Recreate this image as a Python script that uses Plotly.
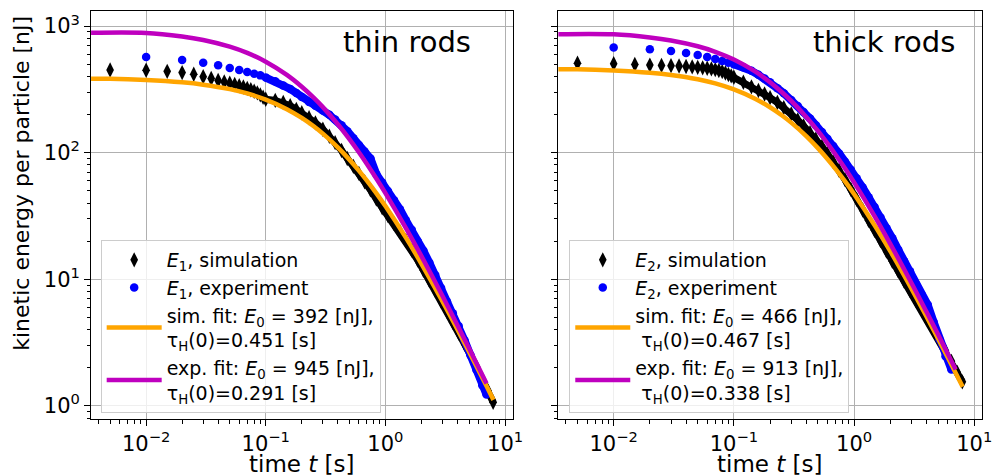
import plotly.graph_objects as go

# ---------------- data ----------------
# time grids [s]
T_SIM_EARLY = [0.005, 0.01, 0.015, 0.02, 0.025, 0.03, 0.035, 0.04, 0.045, 0.05,
               0.055, 0.06, 0.065, 0.07, 0.075, 0.08, 0.085, 0.09, 0.095, 0.10]
T_EXP_EARLY = [0.01, 0.02, 0.03, 0.04, 0.05, 0.06, 0.07, 0.08, 0.09, 0.10]
T_DENSE = [0.12, 0.14, 0.16, 0.18, 0.20, 0.23, 0.26, 0.30, 0.34, 0.38, 0.43, 0.48,
           0.54, 0.60, 0.67, 0.75, 0.84, 0.94, 1.05, 1.18, 1.32, 1.48, 1.66, 1.86,
           2.08, 2.33, 2.61, 2.92, 3.27, 3.66, 4.10, 4.59, 5.14, 5.76, 6.45]
T_SIM_TAIL = [7.22, 7.95]
T_EXP_TAIL_L = [7.0]

# thin rods (left panel), kinetic energy [nJ]
E1_SIM = [450, 448, 439, 429, 416, 398, 385, 372, 362, 354,
          346, 338, 330, 322, 314, 306, 297, 286, 274, 264,
          259, 249, 235, 220, 207, 189, 172, 153, 135, 120, 104, 90,
          78, 68.6, 59, 50.9, 43, 36.7, 31.9, 27.6, 23.9, 20.3, 17.0, 14.2,
          11.8, 9.8, 8.17, 6.74, 5.59, 4.58, 3.77, 3.08, 2.52, 2.05, 1.64,
          1.31, 1.07]
E1_EXP = [570, 539, 514, 490, 466, 450, 433, 421, 408, 392,
          367, 340, 319, 296, 275, 251, 235, 215, 199, 183, 165, 148,
          130, 115, 102, 90, 67.6, 58.1, 49.8, 42.2, 35.8, 29.3, 24.6, 20.1,
          16.8, 13.5, 10.8, 8.54, 6.69, 5.39, 4.27, 3.29, 2.52, 1.93, 1.46,
          1.23]

# thick rods (right panel), kinetic energy [nJ]
E2_SIM = [508, 505, 497, 492, 489, 487, 484, 480, 476, 472,
          468, 464, 459, 453, 446, 437, 426, 415, 404, 394,
          360, 331, 310, 291, 272, 249, 227, 202, 181, 163, 144, 128,
          112, 98, 85, 72.7, 61.3, 51.3, 42.8, 35.2, 29.3, 24.4, 20.2, 16.7,
          13.9, 11.6, 9.66, 8.15, 6.84, 5.73, 4.77, 3.97, 3.29, 2.72, 2.25,
          1.84, 1.55]
E2_EXP = [676, 655, 635, 612, 591, 570, 549, 530, 514, 500,
          472, 443, 412, 385, 360, 323, 295, 261, 234, 210, 186, 165,
          146, 129, 113, 98.7, 84.9, 73.4, 62.8, 53.0, 44.4, 37.2, 30.8, 25.3,
          21.1, 17.1, 13.9, 11.6, 9.2, 7.5, 6.3, 4.6, 3.35, 2.47, 1.94]

# fitted curves
T_FIT_SIM = [0.003, 0.005, 0.01, 0.02, 0.03, 0.05, 0.07, 0.1, 0.15, 0.2, 0.25, 0.3,
             0.4, 0.5, 0.6, 0.7, 0.85, 1.0, 1.5, 2, 3, 4, 5, 6, 7, 8.0]
T_FIT_EXP = [0.003, 0.01, 0.02, 0.03, 0.05, 0.07, 0.1, 0.15, 0.2, 0.25, 0.3,
             0.4, 0.5, 0.6, 0.7, 0.85, 1.0, 1.5, 2, 3, 4, 5, 6, 7.0]
FIT1_SIM = [383.4, 383.4, 375.2, 359.4, 344.6, 317.7, 293.7, 262.6, 220.7, 188.1, 162.3,
            141.4, 110.1, 88.16, 72.2, 60.18, 47.1, 37.87, 20.95, 13.27, 6.695,
            4.025, 2.683, 1.916, 1.436, 1.117]
FIT1_EXP = [883.3, 883.3, 827.4, 776.6, 688.2, 614.0, 523.4, 411.5, 331.9, 273.4,
            229.1, 167.6, 127.9, 100.8, 81.48, 61.47, 48.01, 24.95, 15.25, 7.389,
            4.346, 2.859, 2.022, 1.505]
FIT2_SIM = [456.2, 456.2, 446.7, 428.5, 411.4, 380.2, 352.4, 316.1, 267.0, 228.4, 197.7,
            172.8, 135.2, 108.7, 89.27, 74.62, 58.59, 47.22, 26.27, 16.70, 8.455,
            5.093, 3.400, 2.430, 1.823, 1.418]
FIT2_EXP = [861.3, 861.3, 813.8, 770.2, 692.9, 626.6, 543.7, 438.0, 360.4, 301.7,
            256.3, 191.5, 148.5, 118.5, 96.81, 73.90, 58.26, 30.88, 19.08, 9.361,
            5.543, 3.661, 2.597, 1.937]

X_TICKS = [0.01, 0.1, 1, 10]
X_TICKTEXT = ["10<sup>−2</sup>", "10<sup>−1</sup>", "10<sup>0</sup>", "10<sup>1</sup>"]
Y_TICKS = [1, 10, 100, 1000]
Y_TICKTEXT = ["10<sup>0</sup>", "10<sup>1</sup>", "10<sup>2</sup>", "10<sup>3</sup>"]

NAMES_L = ["<i>E</i><sub>1</sub>, simulation", "<i>E</i><sub>1</sub>, experiment",
           "sim. fit: <i>E</i><sub>0</sub> = 392 [nJ],<br>τ<sub>H</sub>(0)=0.451 [s]",
           "exp. fit: <i>E</i><sub>0</sub> = 945 [nJ],<br>τ<sub>H</sub>(0)=0.291 [s]"]
NAMES_R = ["<i>E</i><sub>2</sub>, simulation", "<i>E</i><sub>2</sub>, experiment",
           "sim. fit: <i>E</i><sub>0</sub> = 466 [nJ],<br> τ<sub>H</sub>(0)=0.467 [s]",
           "exp. fit: <i>E</i><sub>0</sub> = 913 [nJ],<br> τ<sub>H</sub>(0)=0.338 [s]"]

# ---------------- figure ----------------
FONT = "DejaVu Sans"
BLACK, BLUE, ORANGE, MAGENTA = "#000000", "#0000ff", "#ffa500", "#bf00bf"

t_sim = T_SIM_EARLY + T_DENSE + T_SIM_TAIL
t_exp_l = T_EXP_EARLY + T_DENSE + T_EXP_TAIL_L
t_exp_r = T_EXP_EARLY + T_DENSE

fig = go.Figure()


def add_panel(xa, ya, legend, ts, es, te, ee, fs, fe, names):
    band_s = [(t, e) for t, e in zip(ts, es) if t >= 0.065]
    band_e = [(t, e) for t, e in zip(te, ee) if t >= 0.1]
    fig.add_trace(go.Scatter(x=[p[0] for p in band_s], y=[p[1] for p in band_s],
                             mode="lines", line=dict(color=BLACK, width=7),
                             showlegend=False, hoverinfo="skip", xaxis=xa, yaxis=ya))
    fig.add_trace(go.Scatter(x=ts, y=es, mode="markers", name=names[0],
                             marker=dict(symbol="diamond-tall", size=11, color=BLACK),
                             xaxis=xa, yaxis=ya, legend=legend))
    fig.add_trace(go.Scatter(x=[p[0] for p in band_e], y=[p[1] for p in band_e],
                             mode="lines", line=dict(color=BLUE, width=8),
                             showlegend=False, hoverinfo="skip", xaxis=xa, yaxis=ya))
    fig.add_trace(go.Scatter(x=te, y=ee, mode="markers", name=names[1],
                             marker=dict(symbol="circle", size=8.5, color=BLUE),
                             xaxis=xa, yaxis=ya, legend=legend))
    fig.add_trace(go.Scatter(x=T_FIT_SIM, y=fs, mode="lines", name=names[2],
                             line=dict(color=ORANGE, width=4.5, shape="spline"),
                             xaxis=xa, yaxis=ya, legend=legend))
    fig.add_trace(go.Scatter(x=T_FIT_EXP, y=fe, mode="lines", name=names[3],
                             line=dict(color=MAGENTA, width=4.5, shape="spline"),
                             xaxis=xa, yaxis=ya, legend=legend))


add_panel("x", "y", "legend", t_sim, E1_SIM, t_exp_l, E1_EXP, FIT1_SIM, FIT1_EXP, NAMES_L)
add_panel("x2", "y2", "legend2", t_sim, E2_SIM, t_exp_r, E2_EXP, FIT2_SIM, FIT2_EXP, NAMES_R)

minor_vals = [m * 10.0 ** k for k in range(-3, 4) for m in range(2, 10)]

W, H = 1003, 476
XL, XR = [92 / W, 518 / W], [564 / W, 992 / W]
YD = [1 - 419 / H, 1 - 11 / H]

common = dict(type="log", showline=True, linecolor="black", linewidth=1, mirror=True,
              ticks="outside", ticklen=6, tickwidth=1, tickcolor="black",
              showgrid=True, gridcolor="#b0b0b0", gridwidth=1, zeroline=False,
              tickfont=dict(family=FONT, size=21, color="black"),
              minor=dict(ticks="outside", ticklen=3.5, tickwidth=1, tickcolor="black",
                         tickmode="array", tickvals=minor_vals, showgrid=False))

xcommon = dict(common, range=[-2.46, 1.065], tickmode="array", tickvals=X_TICKS,
               ticktext=X_TICKTEXT, ticklabelstandoff=0)
ycommon = dict(common, range=[-0.103, 3.119], tickmode="array", tickvals=Y_TICKS,
               ticktext=Y_TICKTEXT)

legend_style = dict(font=dict(family=FONT, size=19, color="black"),
                    bgcolor="rgba(255,255,255,0.8)", bordercolor="#cccccc", borderwidth=1,
                    xanchor="left", yanchor="top", y=1 - 240 / H, itemwidth=55,
                    tracegroupgap=0)

fig.update_layout(
    width=W, height=H, margin=dict(l=0, r=0, t=0, b=0),
    paper_bgcolor="white", plot_bgcolor="white",
    font=dict(family=FONT, color="black"),
    xaxis=dict(xcommon, domain=XL, anchor="y"),
    yaxis=dict(ycommon, domain=YD, anchor="x"),
    xaxis2=dict(xcommon, domain=XR, anchor="y2"),
    yaxis2=dict(ycommon, domain=YD, anchor="x2", matches="y", showticklabels=False),
    legend=dict(legend_style, x=101.7 / W),
    legend2=dict(legend_style, x=575 / W),
    annotations=[
        dict(text="thin rods", x=411 / W, y=1 - 42 / H, xref="paper", yref="paper",
             showarrow=False, font=dict(family=FONT, size=29, color="black"),
             xanchor="center", yanchor="middle"),
        dict(text="thick rods", x=892.5 / W, y=1 - 42 / H, xref="paper", yref="paper",
             showarrow=False, font=dict(family=FONT, size=29, color="black"),
             xanchor="center", yanchor="middle"),
        dict(text="time <i>t</i> [s]", x=305 / W, y=1 - 464 / H, xref="paper", yref="paper",
             showarrow=False, font=dict(family=FONT, size=23, color="black"),
             xanchor="center", yanchor="middle"),
        dict(text="time <i>t</i> [s]", x=778 / W, y=1 - 464 / H, xref="paper", yref="paper",
             showarrow=False, font=dict(family=FONT, size=23, color="black"),
             xanchor="center", yanchor="middle"),
        dict(text="kinetic energy per particle [nJ]", x=22 / W, y=1 - 183 / H,
             xref="paper", yref="paper", showarrow=False, textangle=-90,
             font=dict(family=FONT, size=22, color="black"),
             xanchor="center", yanchor="middle"),
    ],
)

fig.write_html("out.html")
